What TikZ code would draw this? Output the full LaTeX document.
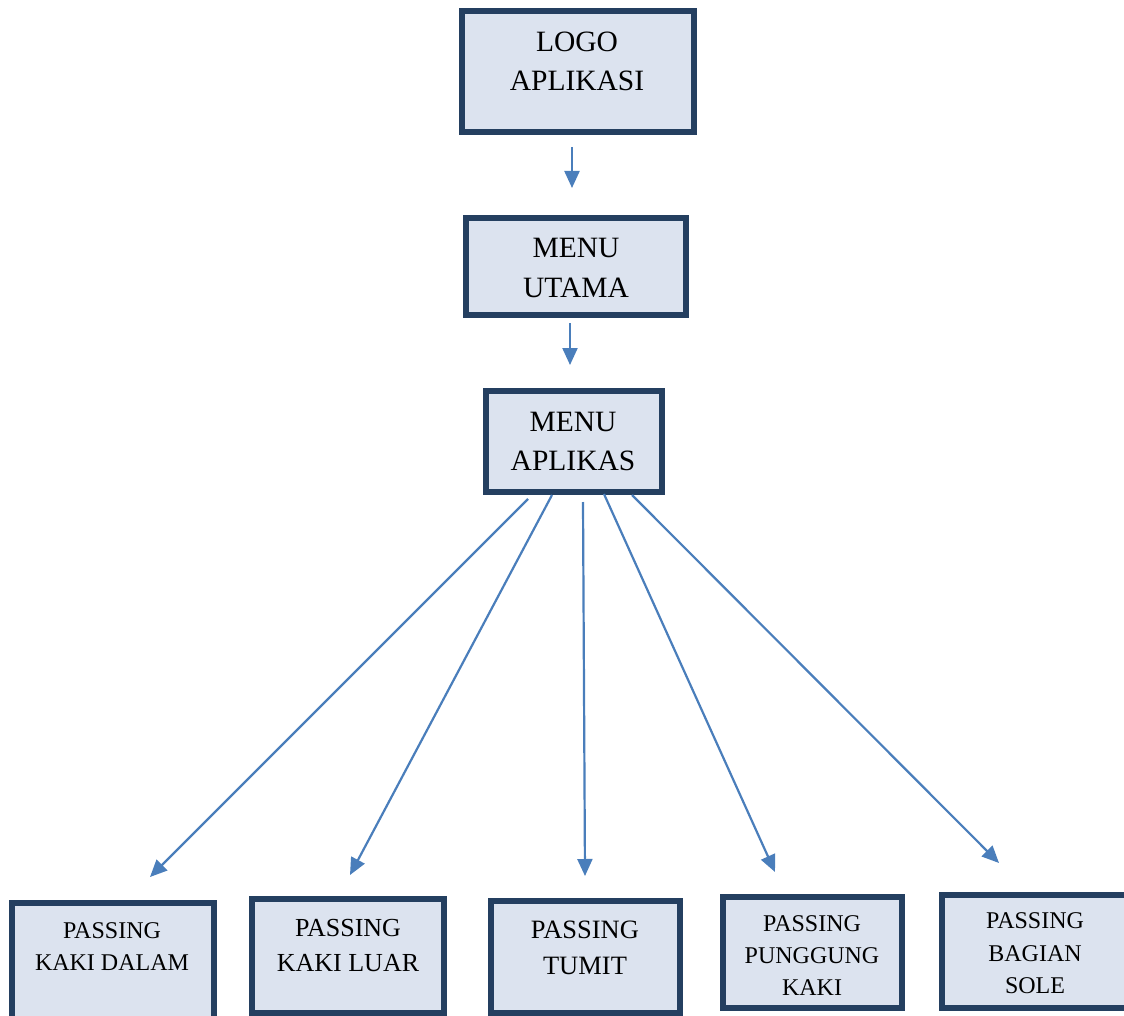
\documentclass[tikz,border=0pt]{standalone}
\usepackage{fontspec}
\setmainfont{Liberation Serif}
\usetikzlibrary{arrows.meta}
\definecolor{boxfill}{HTML}{DCE3EF}
\definecolor{boxline}{HTML}{243F60}
\definecolor{arrowblue}{HTML}{4A7EBB}
\begin{document}
\begin{tikzpicture}[x=1pt, y=-1pt,
  main box/.style={rectangle, draw=boxline, fill=boxfill, line width=5.5pt, outer sep=0pt, inner sep=0pt},
  title node/.style={align=center, inner sep=0pt},
  arr/.style={color=arrowblue, line width=2.2pt, -{Triangle[length=17pt,width=15pt]}}]
\useasboundingbox (0,0) rectangle (1124,1016);
\clip (0,0) rectangle (1124,1016);

  % boxes
  \node[main box, minimum width=232pt, minimum height=121pt] (1) at (578,71.5) {};
  \node[main box, minimum width=220pt, minimum height=97pt] (2) at (576,266.5) {};
  \node[main box, minimum width=176pt, minimum height=101pt] (3) at (574,441.5) {};
  \node[main box, minimum width=202pt, minimum height=127pt] (4) at (113,966.5) {};
  \node[main box, minimum width=192pt, minimum height=114pt] (5) at (348,956) {};
  \node[main box, minimum width=189pt, minimum height=112pt] (6) at (585.5,957) {};
  \node[main box, minimum width=179pt, minimum height=111pt] (7) at (812.5,952.5) {};
  \node[main box, minimum width=186pt, minimum height=113pt] (8) at (1035,951.5) {};

  % texts
  \node[title node, font=\fontsize{29.5}{39}\selectfont] (1t) at (577,61) {LOGO\\APLIKASI};
  \node[title node, font=\fontsize{29.5}{40}\selectfont] (2t) at (576,268) {MENU\\UTAMA};
  \node[title node, font=\fontsize{29.5}{39}\selectfont] (3t) at (573,441.5) {MENU\\APLIKAS};
  \node[title node, font=\fontsize{24}{32}\selectfont] (4t) at (112,947) {PASSING\\KAKI DALAM};
  \node[title node, font=\fontsize{26}{35}\selectfont] (5t) at (348,945.5) {PASSING\\KAKI LUAR};
  \node[title node, font=\fontsize{26.5}{36}\selectfont] (6t) at (585,948) {PASSING\\TUMIT};
  \node[title node, font=\fontsize{24}{32}\selectfont] (7t) at (812,956) {PASSING\\PUNGGUNG\\KAKI};
  \node[title node, font=\fontsize{24}{32.5}\selectfont] (8t) at (1035,953.5) {PASSING\\BAGIAN\\SOLE};

  % arrows
  \path
    ([shift={(-6,15)}]1.south) edge[arr] ([shift={(-4,-30)}]2.north)
    ([shift={(-6,8)}]2.south) edge[arr] ([shift={(-4,-26)}]3.north)
    ([shift={(-46,7)}]3.south) edge[arr] ([shift={(37,-26)}]4.north)
    ([shift={(-22,3)}]3.south) edge[arr] ([shift={(2,-24)}]5.north)
    ([shift={(9,10)}]3.south) edge[arr] ([shift={(-0.5,-25)}]6.north)
    ([shift={(30,2)}]3.south) edge[arr] ([shift={(-37.5,-25)}]7.north)
    ([shift={(58,3)}]3.south) edge[arr] ([shift={(-36,-32)}]8.north);
\end{tikzpicture}
\end{document}
